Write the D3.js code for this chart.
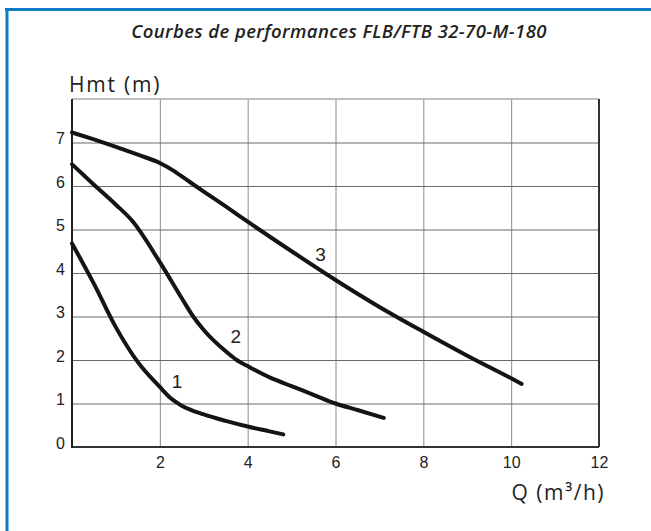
<!DOCTYPE html>
<html>
<head>
<meta charset="utf-8">
<script src="https://cdn.jsdelivr.net/npm/d3@7"></script>
<style>
  body { margin: 0; background: #fff; }
  svg { display: block; }
</style>
</head>
<body>
<svg></svg>
<script>
// Data: Q (m3/h) vs Hmt (m)
const curve1 = [[0, 4.68], [0.5, 3.75], [1, 2.75], [1.5, 1.95], [2, 1.38], [2.25, 1.12], [2.5, 0.95], [3, 0.75], [3.5, 0.6], [4, 0.47], [4.5, 0.36], [4.81, 0.29]]
const curve2 = [[0, 6.5], [0.5, 6.03], [1, 5.57], [1.37, 5.2], [2, 4.25], [2.5, 3.42], [2.76, 3.0], [3, 2.69], [3.5, 2.2], [3.75, 2.0], [4, 1.86], [4.5, 1.6], [5, 1.4], [5.5, 1.2], [6, 1.0], [6.5, 0.85], [7.1, 0.67]]
const curve3 = [[0, 7.23], [0.5, 7.07], [1, 6.9], [1.5, 6.72], [2, 6.53], [2.3, 6.36], [2.6, 6.15], [3, 5.87], [3.5, 5.53], [4, 5.18], [5, 4.5], [6, 3.84], [7, 3.22], [8, 2.65], [9, 2.1], [10, 1.58], [10.24, 1.45]]
const curveNames = ['1', '2', '3']
const labelPos = [[2.39, 1.52], [3.73, 2.55], [5.66, 4.44]]
const xTicks = [2, 4, 6, 8, 10, 12]
const yTicks = [0, 1, 2, 3, 4, 5, 6, 7]

let width = 651
let height = 531
let svg = d3.select('svg').attr('width', width).attr('height', height)

// plot area
let plotLeft = 72, plotRight = 599, plotTop = 99, plotBottom = 447

let xScale = d3.scaleLinear().domain([0, 12]).range([plotLeft, plotRight])
let yScale = d3.scaleLinear().domain([0, 8]).range([plotBottom, plotTop])

// blue frame (only top and left edges show)
svg.append('line')
    .attr('x1', 5).attr('x2', width).attr('y1', 9.5).attr('y2', 9.5)
    .attr('stroke', '#0d7bc6').attr('stroke-width', 3)
svg.append('line')
    .attr('x1', 7).attr('x2', 7).attr('y1', 8).attr('y2', height)
    .attr('stroke', '#0d7bc6').attr('stroke-width', 3)

// title
svg.append('text')
    .attr('x', 339).attr('y', 38)
    .attr('text-anchor', 'middle')
    .style('font-family', 'Open Sans')
    .style('font-style', 'italic')
    .style('font-weight', 600)
    .style('font-size', '18.5px')
    .style('letter-spacing', '0.4px')
    .attr('fill', '#222')
    .text('Courbes de performances FLB/FTB 32-70-M-180')

// x grid + labels
let xAxis = d3.axisBottom(xScale).tickValues(xTicks).tickSize(-(plotBottom - plotTop)).tickPadding(10)
let gx = svg.append('g')
    .attr('transform', 'translate(0,' + plotBottom + ')')
    .call(xAxis)
gx.select('.domain').remove()
gx.selectAll('line').attr('stroke', '#8a8a8a').attr('stroke-width', 1)
gx.selectAll('text')
    .style('font-family', 'Liberation Sans, Arial, sans-serif')
    .style('font-size', '16px')
    .attr('fill', '#222')

// y grid + labels
let yAxis = d3.axisLeft(yScale).tickValues(yTicks).tickSize(-(plotRight - plotLeft)).tickPadding(7)
let gy = svg.append('g')
    .attr('transform', 'translate(' + plotLeft + ',0)')
    .call(yAxis)
gy.select('.domain').remove()
gy.selectAll('line').attr('stroke', '#6a6a6a').attr('stroke-width', 1)
gy.selectAll('text')
    .attr('y', -4)
    .style('font-family', 'Liberation Sans, Arial, sans-serif')
    .style('font-size', '16px')
    .attr('fill', '#222')

// plot frame
svg.append('line').attr('x1', plotLeft).attr('x2', plotRight).attr('y1', plotTop).attr('y2', plotTop)
    .attr('stroke', '#aaa').attr('stroke-width', 1.5)
svg.append('line').attr('x1', plotRight).attr('x2', plotRight).attr('y1', plotTop).attr('y2', plotBottom)
    .attr('stroke', '#333').attr('stroke-width', 2)
svg.append('line').attr('x1', plotLeft).attr('x2', plotRight).attr('y1', plotBottom).attr('y2', plotBottom)
    .attr('stroke', '#333').attr('stroke-width', 2)
svg.append('line').attr('x1', plotLeft).attr('x2', plotLeft).attr('y1', plotTop).attr('y2', plotBottom + 1)
    .attr('stroke', '#222').attr('stroke-width', 2)

// curves
let line = d3.line()
    .x((d) => xScale(d[0]))
    .y((d) => yScale(d[1]))
    .curve(d3.curveMonotoneX)

svg.selectAll('path.curve')
    .data([curve1, curve2, curve3])
    .enter()
    .append('path')
    .attr('class', 'curve')
    .attr('d', line)
    .attr('fill', 'none')
    .attr('stroke', '#141414')
    .attr('stroke-width', 4)
    .attr('stroke-linecap', 'round')
    .attr('stroke-linejoin', 'round')

svg.selectAll('text.curve-label')
    .data(labelPos)
    .enter()
    .append('text')
    .attr('class', 'curve-label')
    .attr('x', (d) => xScale(d[0]))
    .attr('y', (d) => yScale(d[1]))
    .attr('dy', '0.35em')
    .attr('text-anchor', 'middle')
    .style('font-family', 'Liberation Sans, Arial, sans-serif')
    .style('font-size', '19px')
    .attr('fill', '#222')
    .text((d, i) => curveNames[i])

// axis titles
svg.append('text')
    .attr('x', 69).attr('y', 92)
    .style('font-family', 'Open Sans')
    .style('font-size', '21px')
    .style('letter-spacing', '1.8px')
    .attr('fill', '#222')
    .text('Hmt (m)')

svg.append('text')
    .attr('x', 605).attr('y', 500)
    .attr('text-anchor', 'end')
    .style('font-family', 'Open Sans')
    .style('font-size', '21px')
    .style('letter-spacing', '1.5px')
    .attr('fill', '#222')
    .text('Q (m³/h)')
</script>
</body>
</html>
